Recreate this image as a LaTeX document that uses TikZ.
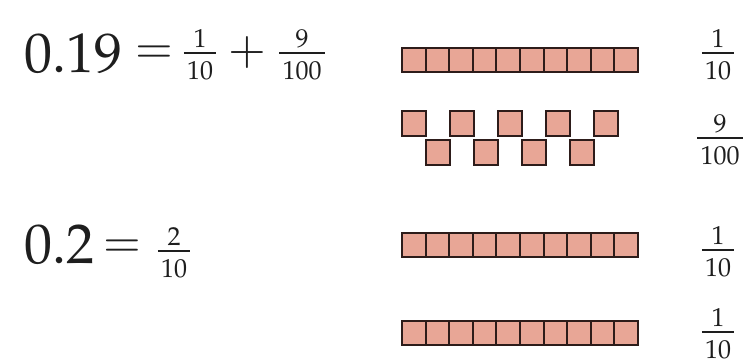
\documentclass[tikz,border=0pt]{standalone}
\usepackage[T1]{fontenc}
\usepackage{mathpazo}
\usetikzlibrary{calc}
\definecolor{sqfill}{RGB}{232,166,150}
\definecolor{sqdraw}{RGB}{45,28,26}
\definecolor{txt}{RGB}{30,30,30}
\tikzset{
  sq/.style={draw=sqdraw, fill=sqfill, line width=2pt, minimum width=23.6pt, minimum height=24pt, inner sep=0pt, outer sep=0pt},
  zsq/.style={sq, minimum width=24pt, minimum height=25pt},
  big/.style={inner sep=0pt, text=txt, font=\fontsize{56}{60}\selectfont},
  op/.style={inner sep=0pt, text=txt, font=\fontsize{46}{50}\selectfont},
  fnum/.style={inner sep=0pt, anchor=south, text=txt, font=\fontsize{26}{28}\selectfont},
  fden/.style={inner sep=0pt, anchor=north, text=txt, font=\fontsize{26}{28}\selectfont},
  fbar/.style={draw=txt, line width=1.1pt}
}
\newcommand{\myfrac}[5]{%
  \node[fnum] (#1n) at (#2,#3-5) {#4};
  \node[fden] (#1d) at (#2,#3+8) {#5};
  \draw[fbar] let \p1=(#1d.north west), \p2=(#1d.north east) in (\x1-3pt,\y1+8pt) -- (\x2+3pt,\y1+8pt);
}
\begin{document}
\begin{tikzpicture}[x=1pt,y=-1pt]
\useasboundingbox (0,0) rectangle (752,360);
% first equation
\node[big, anchor=base west] (e1) at (24,72) {0.19};
\node[op] (eq1) at (154,55) {$=$};
\myfrac{fa}{200}{53}{1}{10}
\node[op] (plus1) at (247,53) {$+$};
\myfrac{fb}{302}{53}{9}{100}
% second equation
\node[big, anchor=base west] (e2) at (24,263) {0.2};
\node[op] (eq2) at (122,249) {$=$};
\myfrac{fc}{174}{251}{2}{10}
% bars
\foreach \i in {0,...,9} \node[sq] (a\i) at ({413.8+23.6*\i},60) {};
\foreach \i in {0,2,4,6,8} \node[zsq] (b\i) at ({414+24*\i},123) {};
\foreach \i in {1,3,5,7} \node[zsq] (b\i) at ({414+24*\i},152.5) {};
\foreach \i in {0,...,9} \node[sq] (c\i) at ({413.8+23.6*\i},245) {};
\foreach \i in {0,...,9} \node[sq] (d\i) at ({413.8+23.6*\i},332.5) {};
% right labels
\myfrac{ra}{718}{53}{1}{10}
\myfrac{rb}{720}{138}{9}{100}
\myfrac{rc}{718}{250}{1}{10}
\myfrac{rd}{718}{332}{1}{10}
\end{tikzpicture}
\end{document}
